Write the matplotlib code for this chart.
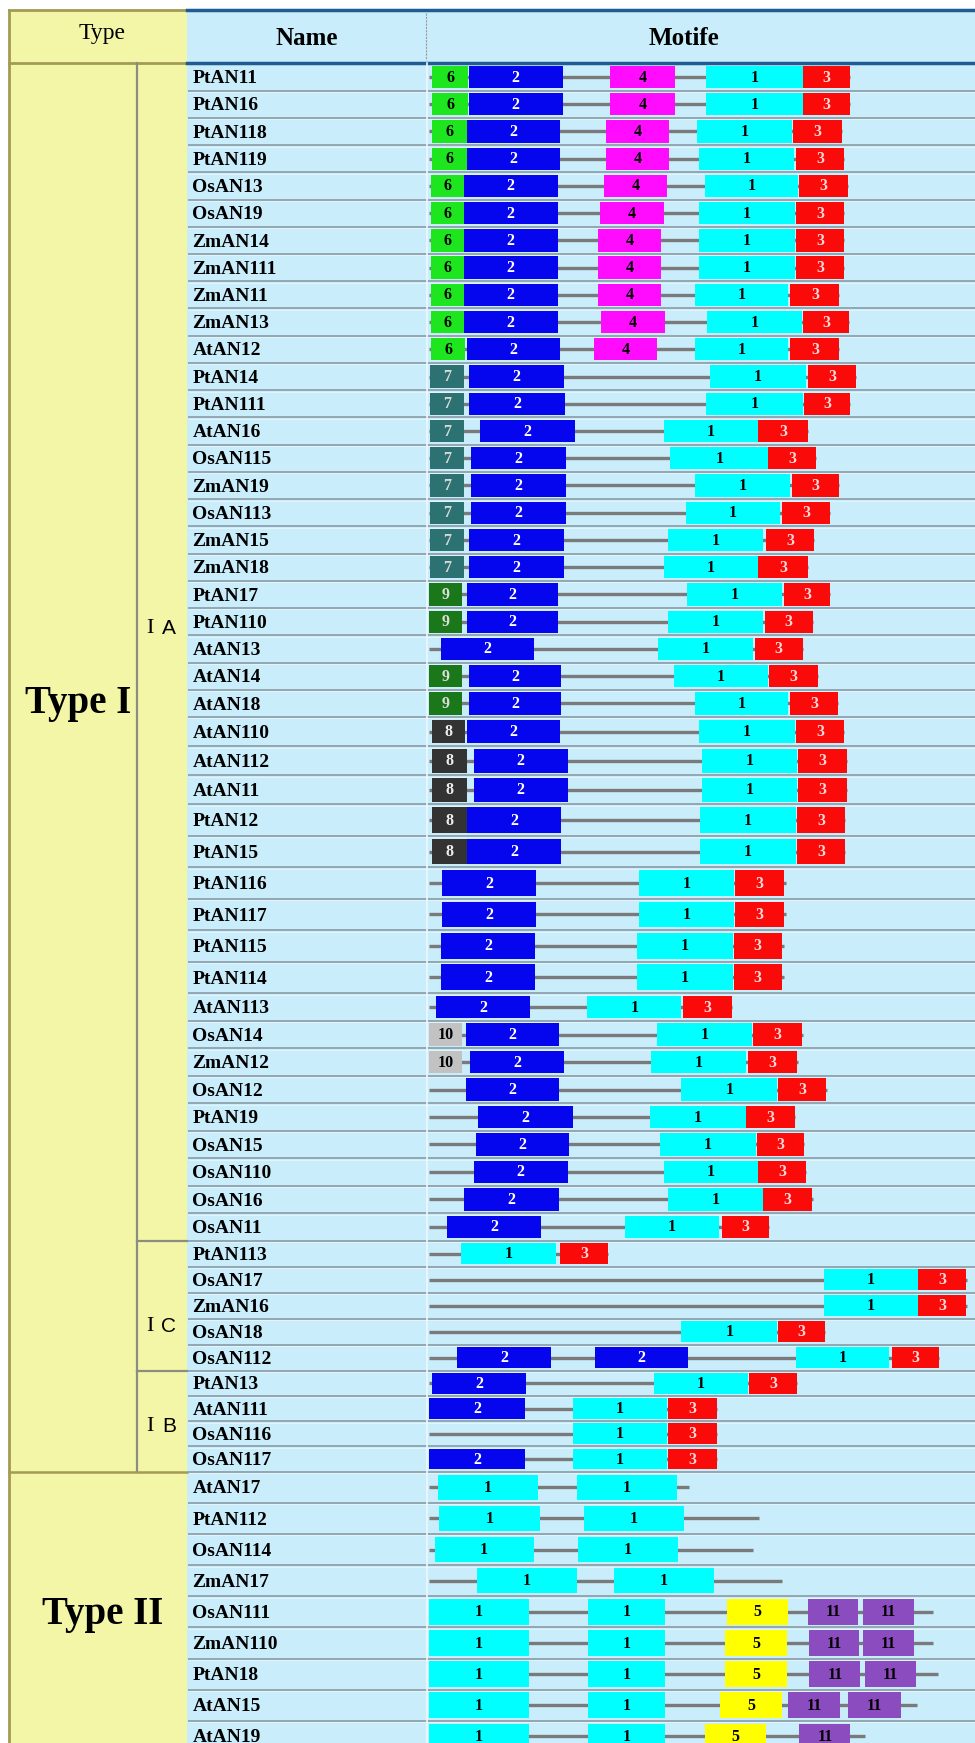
import matplotlib.pyplot as plt
from matplotlib.patches import Rectangle

plt.rcParams['font.family'] = ['Liberation Serif', 'DejaVu Serif']

# ---- data -------------------------------------------------------------
names = ['PtAN11', 'PtAN16', 'PtAN118', 'PtAN119', 'OsAN13', 'OsAN19', 'ZmAN14',
         'ZmAN111', 'ZmAN11', 'ZmAN13', 'AtAN12', 'PtAN14', 'PtAN111', 'AtAN16',
         'OsAN115', 'ZmAN19', 'OsAN113', 'ZmAN15', 'ZmAN18', 'PtAN17', 'PtAN110',
         'AtAN13', 'AtAN14', 'AtAN18', 'AtAN110', 'AtAN112', 'AtAN11', 'PtAN12',
         'PtAN15', 'PtAN116', 'PtAN117', 'PtAN115', 'PtAN114', 'AtAN113', 'OsAN14',
         'ZmAN12', 'OsAN12', 'PtAN19', 'OsAN15', 'OsAN110', 'OsAN16', 'OsAN11',
         'PtAN113', 'OsAN17', 'ZmAN16', 'OsAN18', 'OsAN112',
         'PtAN13', 'AtAN111', 'OsAN116', 'OsAN117',
         'AtAN17', 'PtAN112', 'OsAN114', 'ZmAN17', 'OsAN111', 'ZmAN110', 'PtAN18',
         'AtAN15', 'AtAN19']

# motif sites per protein: (motif, start, end)
sites = [
    [(6, 3, 35), (2, 36, 120), (4, 163, 221), (1, 249, 336), (3, 336, 379)],
    [(6, 3, 35), (2, 36, 120), (4, 163, 221), (1, 249, 336), (3, 336, 379)],
    [(6, 3, 34), (2, 34, 118), (4, 159, 216), (1, 241, 326), (3, 327, 371)],
    [(6, 3, 34), (2, 34, 118), (4, 159, 216), (1, 243, 328), (3, 330, 373)],
    [(6, 2, 31), (2, 31, 116), (4, 157, 214), (1, 248, 332), (3, 333, 377)],
    [(6, 2, 31), (2, 31, 116), (4, 154, 211), (1, 243, 329), (3, 330, 373)],
    [(6, 2, 31), (2, 31, 116), (4, 152, 209), (1, 243, 329), (3, 330, 373)],
    [(6, 2, 31), (2, 31, 116), (4, 152, 209), (1, 243, 329), (3, 330, 373)],
    [(6, 2, 31), (2, 31, 116), (4, 152, 209), (1, 239, 323), (3, 325, 369)],
    [(6, 2, 31), (2, 31, 116), (4, 155, 212), (1, 250, 335), (3, 336, 378)],
    [(6, 2, 32), (2, 34, 118), (4, 148, 205), (1, 239, 323), (3, 325, 369)],
    [(7, 1, 31), (2, 36, 121), (1, 253, 339), (3, 341, 384)],
    [(7, 1, 31), (2, 36, 122), (1, 249, 336), (3, 337, 379)],
    [(7, 1, 31), (2, 46, 131), (1, 211, 296), (3, 296, 341)],
    [(7, 1, 31), (2, 38, 123), (1, 217, 305), (3, 305, 348)],
    [(7, 1, 31), (2, 38, 123), (1, 239, 325), (3, 326, 369)],
    [(7, 1, 31), (2, 38, 123), (1, 231, 316), (3, 317, 361)],
    [(7, 1, 31), (2, 36, 121), (1, 215, 300), (3, 303, 346)],
    [(7, 1, 31), (2, 36, 121), (1, 211, 296), (3, 296, 341)],
    [(9, 0, 30), (2, 34, 116), (1, 232, 317), (3, 319, 361)],
    [(9, 0, 30), (2, 34, 116), (1, 215, 300), (3, 302, 345)],
    [(2, 11, 94), (1, 206, 291), (3, 293, 336)],
    [(9, 0, 30), (2, 36, 119), (1, 220, 305), (3, 306, 350)],
    [(9, 0, 30), (2, 36, 119), (1, 239, 323), (3, 325, 368)],
    [(8, 3, 32), (2, 34, 118), (1, 243, 329), (3, 330, 373)],
    [(8, 3, 34), (2, 40, 125), (1, 245, 331), (3, 332, 376)],
    [(8, 3, 34), (2, 40, 125), (1, 245, 331), (3, 332, 376)],
    [(8, 3, 34), (2, 34, 119), (1, 244, 330), (3, 331, 374)],
    [(8, 3, 34), (2, 34, 119), (1, 244, 330), (3, 331, 374)],
    [(2, 12, 96), (1, 189, 274), (3, 275, 319)],
    [(2, 12, 96), (1, 189, 274), (3, 275, 319)],
    [(2, 11, 95), (1, 187, 273), (3, 274, 317)],
    [(2, 11, 95), (1, 187, 273), (3, 274, 317)],
    [(2, 6, 91), (1, 142, 227), (3, 228, 272)],
    [(10, 0, 30), (2, 33, 117), (1, 205, 290), (3, 291, 335)],
    [(10, 0, 30), (2, 37, 121), (1, 200, 285), (3, 287, 331)],
    [(2, 33, 117), (1, 227, 313), (3, 314, 357)],
    [(2, 44, 129), (1, 199, 285), (3, 285, 329)],
    [(2, 42, 126), (1, 208, 294), (3, 295, 337)],
    [(2, 40, 125), (1, 211, 296), (3, 296, 339)],
    [(2, 31, 117), (1, 215, 300), (3, 300, 344)],
    [(2, 16, 101), (1, 176, 261), (3, 263, 306)],
    [(1, 29, 114), (3, 118, 161)],
    [(1, 355, 440), (3, 440, 483)],
    [(1, 355, 440), (3, 440, 483)],
    [(1, 227, 313), (3, 314, 356)],
    [(2, 25, 110), (2, 149, 233), (1, 330, 414), (3, 416, 459)],
    [(2, 3, 87), (1, 202, 287), (3, 288, 331)],
    [(2, 0, 86), (1, 129, 214), (3, 215, 259)],
    [(1, 129, 214), (3, 215, 259)],
    [(2, 0, 86), (1, 129, 214), (3, 215, 259)],
    [(1, 8, 98), (1, 133, 223)],
    [(1, 9, 100), (1, 139, 229)],
    [(1, 5, 94), (1, 134, 224)],
    [(1, 43, 133), (1, 166, 256)],
    [(1, 0, 90), (1, 143, 212), (5, 268, 323), (11, 341, 386), (11, 390, 436)],
    [(1, 0, 90), (1, 143, 212), (5, 266, 322), (11, 342, 387), (11, 390, 436)],
    [(1, 0, 90), (1, 143, 212), (5, 266, 322), (11, 342, 388), (11, 392, 438)],
    [(1, 0, 90), (1, 143, 212), (5, 262, 317), (11, 323, 370), (11, 377, 424)],
    [(1, 0, 90), (1, 143, 212), (5, 248, 303), (11, 333, 379)],
]

prot_len = [379, 379, 371, 373, 377, 373, 373, 373, 369, 378, 369, 384, 379, 341,
            348, 369, 361, 346, 341, 361, 345, 336, 350, 368, 373, 376, 376, 374,
            374, 321, 321, 319, 319, 272, 336, 332, 358, 329, 337, 339, 345, 306,
            161, 484, 484, 356, 459, 331, 259, 259, 259,
            234, 297, 291, 317, 453, 453, 458, 439, 392]

subgroups = ['A', 'C', 'B']          # written after a roman "I"
subgroup_size = [42, 5, 4]
types = ['Type I', 'Type II']
type_size = [51, 9]

motif_fill = {1: '#00ffff', 2: '#0505ee', 3: '#fb0a0a', 4: '#ff0cff', 5: '#ffff00',
              6: '#1ee61e', 7: '#2c7272', 8: '#333333', 9: '#1a781a', 10: '#c2c2c2',
              11: '#8a4cbf'}
motif_txt = {1: 'black', 2: 'white', 3: '#ffdada', 4: 'black', 5: 'black', 6: 'black',
             7: '#d8d8d8', 8: '#eeeeee', 9: '#dddddd', 10: 'black', 11: 'black'}

# ---- layout (pixels of the 877 x 1568 preview) ---------------------------
W, H = 877, 1568
yellow = '#f3f6a6'
blue_bg = '#c9edfb'
olive = '#a39a55'
row_h = [24.5] * 24 + [26.2] * 3 + [28.3] * 6 + [25.0] + [24.7] * 8 + \
        [23.4] * 5 + [22.75] * 4 + [28.0] * 9
head_top, head_bot = 9, 57
edges = [head_bot]
for h in row_h:
    edges.append(edges[-1] + h)
centers = [(edges[i] + edges[i + 1]) / 2 for i in range(len(row_h))]
x0 = 386          # start of the sequence line
col_type, col_sub, col_name, col_motif = 8, 123, 168, 384

fig = plt.figure(figsize=(9.75, 17.43), dpi=100)
ax = fig.add_axes([0, 0, 1, 1])
ax.set_xlim(0, W)
ax.set_ylim(H, 0)
ax.axis('off')

# backgrounds
ax.add_patch(Rectangle((col_type, head_top), col_name - col_type, H - head_top,
                       facecolor=yellow, edgecolor='none'))
ax.add_patch(Rectangle((col_name, head_top), W - col_name, H - head_top,
                       facecolor=blue_bg, edgecolor='none'))

# header
ax.plot([col_type, col_name], [head_top, head_top], color=olive, lw=2)
ax.plot([col_name, W], [head_top, head_top], color='#1f5c92', lw=2.5)
ax.plot([col_type, col_name], [head_bot, head_bot], color=olive, lw=2)
ax.plot([col_name, W], [head_bot, head_bot], color='#1f5c92', lw=2.5)
ax.plot([col_motif - 1, col_motif - 1], [head_top + 3, head_bot - 3], color='#9a9a9a',
        lw=0.8, ls=(0, (2, 1)))
ax.text(92, 30, 'Type', fontsize=17, ha='center', va='center')
ax.text(276, 35, 'Name', fontsize=18, fontweight='bold', ha='center', va='center')
ax.text(615, 35, 'Motife', fontsize=18, fontweight='bold', ha='center', va='center')

# left structure
ax.plot([col_type, col_type], [head_top, H], color=olive, lw=2)
ax.plot([col_sub, col_sub], [edges[0], edges[sum(subgroup_size)]], color='#8c8c80', lw=1.6)
label_y = [565, 1193, 1283]
i0 = 0
for sg, n, ly in zip(subgroups, subgroup_size, label_y):
    if i0 > 0:
        ax.plot([col_sub, col_name], [edges[i0], edges[i0]], color='#8c8c80', lw=1.6)
    ax.text(135, ly, 'I', fontsize=16, ha='center', va='center')
    ax.text(152, ly, sg, fontsize=15, ha='center', va='center',
            family=['Liberation Sans', 'DejaVu Sans'])
    i0 += n
type_xy = [(70, 633), (92, 1452)]
i0 = 0
for t, n, (tx, ty) in zip(types, type_size, type_xy):
    if i0 > 0:
        ax.plot([col_type, col_name], [edges[i0], edges[i0]], color=olive, lw=1.8)
    ax.text(tx, ty, t, fontsize=28, fontweight='bold', ha='center', va='center')
    i0 += n

# row separators
for e in edges[1:-1]:
    ax.plot([col_name + 2, W], [e, e], color='#93a7b2', lw=1.4)
    ax.plot([col_name + 2, W], [e + 1.3, e + 1.3], color='#e6f6fc', lw=0.6)
ax.plot([col_motif, col_motif], [head_bot, H], color='#eef9fd', lw=1.2)

# rows
for i, (nm, st, ln) in enumerate(zip(names, sites, prot_len)):
    yc = centers[i]
    bh = row_h[i] * 0.82
    ax.text(173, yc + 1.5, nm, fontsize=14, fontweight='bold', ha='left', va='center')
    ax.plot([x0, x0 + ln], [yc, yc], color='#7a7a7a', lw=2.4, solid_capstyle='butt',
            zorder=2)
    for m, s, e in st:
        ax.add_patch(Rectangle((x0 + s, yc - bh / 2), e - s, bh,
                               facecolor=motif_fill[m], edgecolor='none', zorder=3))
        ax.text(x0 + (s + e) / 2, yc + 0.5, str(m), fontsize=11.5, fontweight='bold',
                color=motif_txt[m], ha='center', va='center', zorder=4)

fig.savefig('out.png', dpi=100)
